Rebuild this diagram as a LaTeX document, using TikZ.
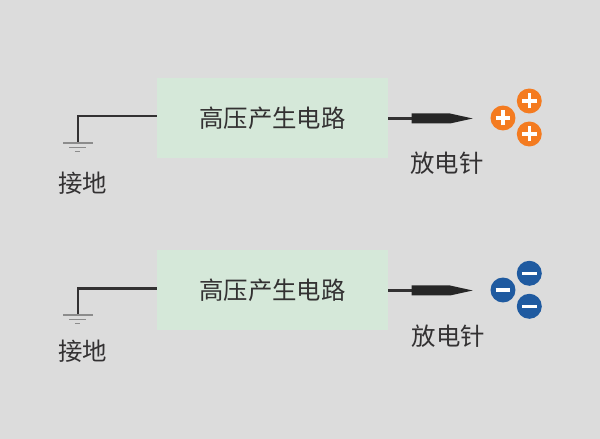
\documentclass[tikz,border=0pt]{standalone}
\usepackage{fontspec}
\newfontfamily\cjk{Noto Sans CJK SC}
\usepackage{tikz}
\definecolor{bgcol}{HTML}{DCDCDC}
\definecolor{boxcol}{HTML}{D5E8D9}
\definecolor{poscol}{HTML}{F47B20}
\definecolor{negcol}{HTML}{1F5AA0}
\definecolor{inkcol}{HTML}{333132}
\definecolor{gndcol}{HTML}{8C8C8C}
\tikzset{
    circuitbox/.style={fill=boxcol, minimum width=4.62cm, minimum height=1.6cm, inner sep=0pt, text=inkcol, font=\cjk\fontsize{13.9}{16}\selectfont},
    caption/.style={text=inkcol, inner sep=0pt, font=\cjk\fontsize{13.9}{16}\selectfont},
    wire/.style={draw=inkcol, line width=1.3pt},
    gndline/.style={draw=gndcol, line width=0.9pt},
    charge/.style={circle, minimum size=0.5cm, inner sep=0pt},
    signbar/.style={draw=white, line width=1.9pt}
}
\begin{document}
\begin{tikzpicture}[x=0.02cm, y=-0.02cm]
    \fill[bgcol] (0, 0) rectangle (600, 439);
    % upper row
    \node[circuitbox] (box1) at (272.5, 118) {高压产生电路};
    \coordinate (wireL1) at (157, 116.3);
    \coordinate (bend1) at (78.3, 116.3);
    \coordinate (gnd1) at (78.3, 143);
    \draw[wire] (wireL1) -- (bend1) -- (gnd1);
    \draw[gndline] (63.3, 143) -- (93, 143);
    \draw[gndline] (69.3, 147.5) -- (86, 147.5);
    \draw[gndline] (75, 151.7) -- (80, 151.7);
    \node[caption] (gndlabel1) at (83, 183.5) {接地};
    \coordinate (wireR1) at (388.5, 118.5);
    \coordinate (needle1) at (411.7, 118.5);
    \draw[wire, line width=1.15pt] (wireR1) -- (needle1);
    \fill[black!85] (411.7, 113.5) -- (450, 113.5) -- (472.7, 118.5) -- (450, 123.5) -- (411.7, 123.5) -- cycle;
    \node[caption] (pinlabel1) at (447, 163) {放电针};
    \foreach \name/\xx/\yy in {p1/503/118, p2/529.3/101, p3/529.3/134} {
        \node[charge, fill=poscol] (\name) at (\xx, \yy) {};
        \draw[signbar] ([xshift=-0.15cm]\name.center) -- ([xshift=0.15cm]\name.center);
        \draw[signbar] ([yshift=-0.15cm]\name.center) -- ([yshift=0.15cm]\name.center);
    }
    % lower row
    \node[circuitbox] (box2) at (272.5, 290) {高压产生电路};
    \coordinate (wireL2) at (157, 288.5);
    \coordinate (bend2) at (78.3, 288.5);
    \coordinate (gnd2) at (78.3, 315);
    \draw[wire] (wireL2) -- (bend2) -- (gnd2);
    \draw[gndline] (63.3, 315) -- (93, 315);
    \draw[gndline] (69.3, 319.5) -- (86, 319.5);
    \draw[gndline] (75, 323.7) -- (80, 323.7);
    \node[caption] (gndlabel2) at (83, 351.5) {接地};
    \coordinate (wireR2) at (388.5, 290.5);
    \coordinate (needle2) at (411.7, 290.5);
    \draw[wire, line width=1.15pt] (wireR2) -- (needle2);
    \fill[black!85] (411.7, 285.5) -- (450, 285.5) -- (472.7, 290.5) -- (450, 295.5) -- (411.7, 295.5) -- cycle;
    \node[caption] (pinlabel2) at (448.5, 336.5) {放电针};
    \foreach \name/\xx/\yy in {n1/503/290, n2/529.3/273.3, n3/529.3/306.3} {
        \node[charge, fill=negcol] (\name) at (\xx, \yy) {};
        \draw[signbar] ([xshift=-0.15cm]\name.center) -- ([xshift=0.15cm]\name.center);
    }
\end{tikzpicture}
\end{document}
